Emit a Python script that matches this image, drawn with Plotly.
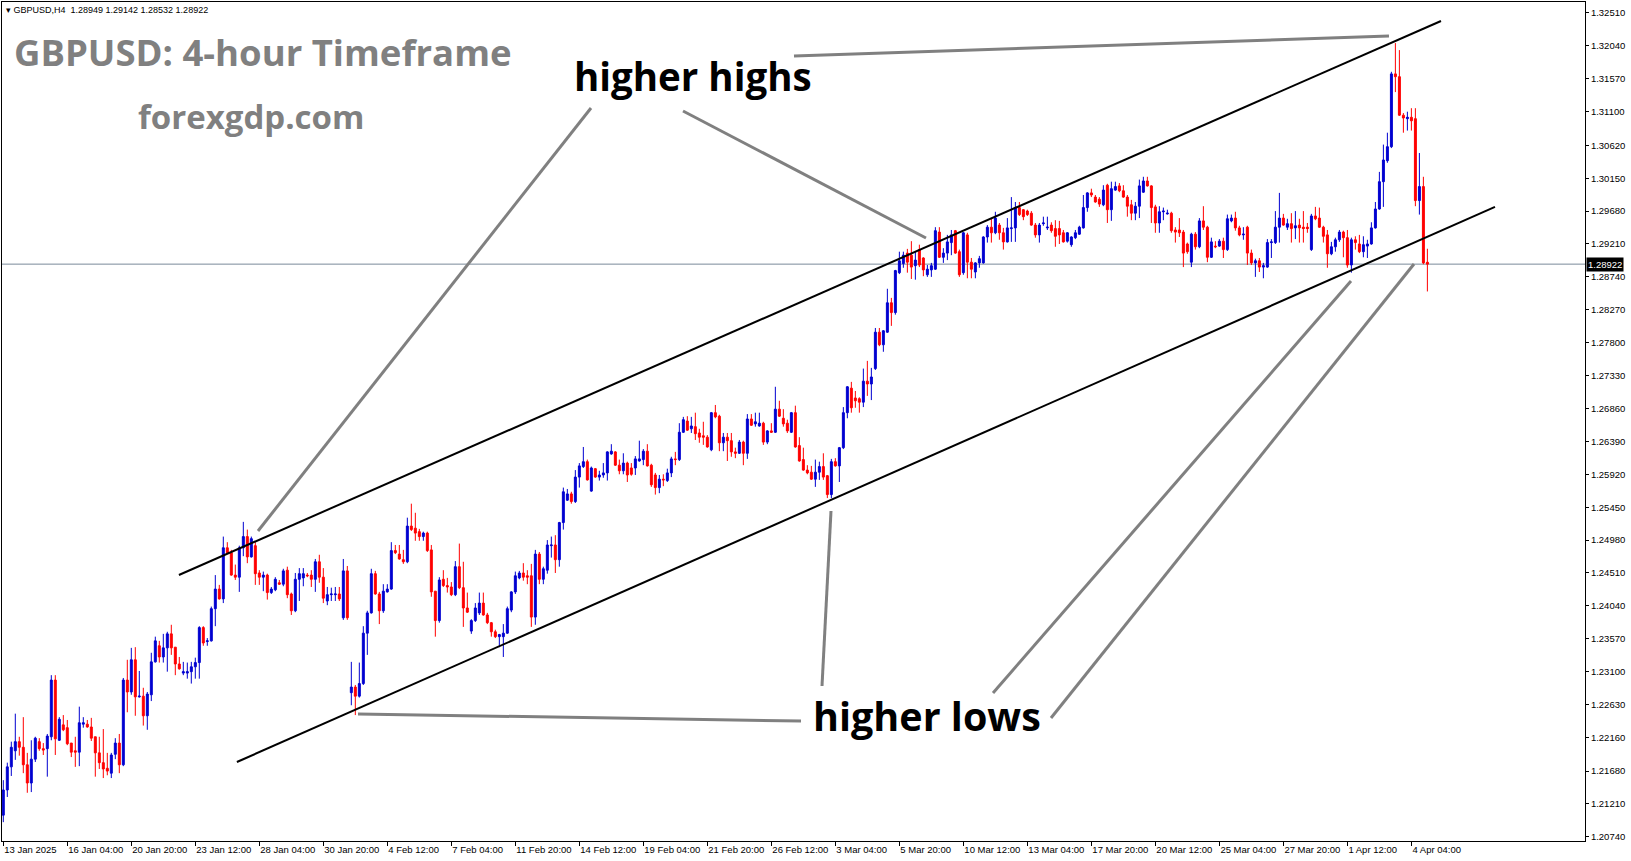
import plotly.graph_objects as go

# ---------------- data (GBPUSD H4) ----------------
open_ = [
 1.2105,1.2141,1.2174,1.2197,1.2210,1.2202,1.2177,1.2151,1.2185,1.2210,
 1.2200,1.2200,1.2217,1.2298,1.2212,1.2234,1.2230,1.2208,1.2197,1.2195,
 1.2235,1.2235,1.2231,1.2217,1.2194,1.2180,1.2172,1.2165,1.2192,1.2208,
 1.2177,1.2298,1.2281,1.2327,1.2274,1.2275,1.2247,1.2277,1.2324,1.2347,
 1.2331,1.2344,1.2364,1.2345,1.2321,1.2308,1.2308,1.2310,1.2317,1.2323,
 1.2373,1.2353,1.2354,1.2400,1.2428,1.2414,1.2487,1.2480,1.2448,1.2445,
 1.2487,1.2503,1.2474,1.2490,1.2451,1.2445,1.2448,1.2423,1.2427,1.2437,
 1.2435,1.2455,1.2421,1.2397,1.2442,1.2444,1.2448,1.2448,1.2442,1.2467,
 1.2445,1.2411,1.2420,1.2420,1.2421,1.2387,1.2454,1.2280,1.2288,1.2275,
 1.2293,1.2365,1.2394,1.2450,1.2421,1.2397,1.2424,1.2428,1.2483,1.2478,
 1.2470,1.2467,1.2518,1.2515,1.2510,1.2503,1.2508,1.2484,1.2425,1.2383,
 1.2442,1.2433,1.2431,1.2420,1.2460,1.2430,1.2401,1.2368,1.2383,1.2394,
 1.2408,1.2391,1.2380,1.2367,1.2360,1.2360,1.2365,1.2398,1.2424,1.2444,
 1.2451,1.2447,1.2447,1.2388,1.2478,1.2442,1.2455,1.2490,1.2491,1.2470,
 1.2523,1.2555,1.2564,1.2553,1.2588,1.2603,1.2610,1.2568,1.2600,1.2588,
 1.2591,1.2594,1.2621,1.2624,1.2605,1.2597,1.2608,1.2601,1.2601,1.2611,
 1.2613,1.2625,1.2605,1.2591,1.2573,1.2585,1.2583,1.2594,1.2614,1.2613,
 1.2652,1.2668,1.2657,1.2660,1.2651,1.2647,1.2645,1.2627,1.2680,1.2675,
 1.2637,1.2645,1.2640,1.2624,1.2622,1.2638,1.2622,1.2671,1.2664,1.2661,
 1.2665,1.2638,1.2654,1.2652,1.2685,1.2672,1.2665,1.2652,1.2680,1.2633,
 1.2613,1.2598,1.2595,1.2585,1.2595,1.2603,1.2590,1.2563,1.2610,1.2604,
 1.2630,1.2680,1.2715,1.2701,1.2700,1.2695,1.2725,1.2721,1.2743,1.2795,
 1.2777,1.2795,1.2837,1.2823,1.2880,1.2893,1.2908,1.2905,1.2890,1.2913,
 1.2901,1.2877,1.2884,1.2885,1.2938,1.2902,1.2908,1.2923,1.2940,1.2910,
 1.2880,1.2934,1.2895,1.2881,1.2894,1.2894,1.2931,1.2945,1.2937,1.2948,
 1.2937,1.2924,1.2943,1.2944,1.2973,1.2970,1.2968,1.2965,1.2948,1.2934,
 1.2950,1.2944,1.2948,1.2943,1.2943,1.2937,1.2925,1.2920,1.2930,1.2935,
 1.2944,1.2973,1.2994,1.2988,1.2985,1.2977,1.3005,1.2970,1.2998,1.3004,
 1.2997,1.2988,1.2977,1.2965,1.2975,1.2995,1.3011,1.3004,1.2974,1.2951,
 1.2967,1.2964,1.2965,1.2941,1.2941,1.2938,1.2921,1.2895,1.2935,1.2917,
 1.2954,1.2945,1.2902,1.2918,1.2918,1.2925,1.2913,1.2954,1.2958,1.2944,
 1.2934,1.2945,1.2908,1.2894,1.2897,1.2888,1.2888,1.2923,1.2923,1.2945,
 1.2958,1.2945,1.2950,1.2944,1.2948,1.2945,1.2945,1.2913,1.2961,1.2958,
 1.2945,1.2934,1.2907,1.2917,1.2927,1.2938,1.2930,1.2891,1.2927,1.2921,
 1.2910,1.2918,1.2921,1.2944,1.2971,1.3010,1.3040,1.3060,1.3164,1.3160,
 1.3105,1.3100,1.3102,1.3100,1.2983,1.3003,1.28949]
high_ = [
 1.2155,1.2180,1.2210,1.2250,1.2217,1.2245,1.2194,1.2212,1.2217,1.2215,
 1.2208,1.2221,1.2305,1.2305,1.2245,1.2248,1.2241,1.2208,1.2217,1.2260,
 1.2245,1.2241,1.2244,1.2217,1.2217,1.2228,1.2194,1.2194,1.2215,1.2221,
 1.2301,1.2327,1.2344,1.2345,1.2311,1.2287,1.2281,1.2337,1.2360,1.2354,
 1.2364,1.2367,1.2377,1.2345,1.2331,1.2324,1.2323,1.2324,1.2330,1.2375,
 1.2375,1.2358,1.2403,1.2448,1.2434,1.2503,1.2495,1.2484,1.2463,1.2490,
 1.2524,1.2513,1.2503,1.2495,1.2455,1.2453,1.2450,1.2431,1.2445,1.2441,
 1.2457,1.2460,1.2423,1.2451,1.2458,1.2458,1.2451,1.2455,1.2471,1.2477,
 1.2458,1.2431,1.2430,1.2431,1.2431,1.2471,1.2461,1.2324,1.2291,1.2323,
 1.2375,1.2397,1.2457,1.2454,1.2424,1.2435,1.2435,1.2495,1.2491,1.2491,
 1.2484,1.2530,1.2550,1.2537,1.2514,1.2510,1.2510,1.2491,1.2425,1.2445,
 1.2455,1.2444,1.2438,1.2468,1.2493,1.2467,1.2423,1.2385,1.2408,1.2423,
 1.2423,1.2394,1.2381,1.2370,1.2364,1.2378,1.2403,1.2425,1.2453,1.2454,
 1.2465,1.2455,1.2464,1.2484,1.2481,1.2460,1.2498,1.2503,1.2505,1.2524,
 1.2573,1.2571,1.2567,1.2598,1.2608,1.2631,1.2613,1.2603,1.2601,1.2597,
 1.2608,1.2625,1.2635,1.2625,1.2613,1.2622,1.2610,1.2608,1.2618,1.2640,
 1.2628,1.2635,1.2607,1.2594,1.2591,1.2592,1.2600,1.2617,1.2624,1.2665,
 1.2674,1.2675,1.2674,1.2680,1.2657,1.2667,1.2648,1.2681,1.2691,1.2677,
 1.2651,1.2651,1.2651,1.2630,1.2641,1.2640,1.2678,1.2678,1.2680,1.2680,
 1.2667,1.2655,1.2665,1.2717,1.2697,1.2685,1.2670,1.2681,1.2690,1.2645,
 1.2630,1.2605,1.2604,1.2613,1.2610,1.2622,1.2591,1.2614,1.2615,1.2631,
 1.2688,1.2718,1.2724,1.2711,1.2702,1.2743,1.2754,1.2744,1.2801,1.2801,
 1.2798,1.2857,1.2844,1.2884,1.2910,1.2910,1.2914,1.2925,1.2910,1.2920,
 1.2902,1.2891,1.2894,1.2945,1.2945,1.2915,1.2934,1.2941,1.2941,1.2913,
 1.2938,1.2937,1.2901,1.2895,1.2904,1.2932,1.2948,1.2958,1.2967,1.2951,
 1.2944,1.2958,1.2988,1.2981,1.2981,1.2971,1.2970,1.2968,1.2951,1.2951,
 1.2960,1.2960,1.2952,1.2955,1.2954,1.2941,1.2938,1.2932,1.2941,1.2947,
 1.2991,1.2995,1.3000,1.2991,1.2988,1.3005,1.3007,1.3010,1.3010,1.3008,
 1.3005,1.2991,1.2984,1.2981,1.3013,1.3017,1.3017,1.3005,1.2977,1.2975,
 1.2973,1.2970,1.2967,1.2945,1.2958,1.2941,1.2923,1.2937,1.2938,1.2958,
 1.2975,1.2947,1.2930,1.2925,1.2928,1.2930,1.2963,1.2963,1.2967,1.2947,
 1.2945,1.2947,1.2913,1.2900,1.2901,1.2894,1.2928,1.2928,1.2968,1.2994,
 1.2964,1.2957,1.2965,1.2968,1.2957,1.2968,1.2951,1.2964,1.2974,1.2973,
 1.2947,1.2941,1.2924,1.2930,1.2941,1.2940,1.2941,1.2930,1.2932,1.2934,
 1.2932,1.2927,1.2952,1.2981,1.3024,1.3063,1.3080,1.3167,1.3208,1.3198,
 1.3108,1.3110,1.3115,1.3115,1.3051,1.3017,1.29142]
low_ = [
 1.2095,1.2131,1.2161,1.2184,1.2190,1.2165,1.2137,1.2138,1.2181,1.2197,
 1.2191,1.2160,1.2212,1.2191,1.2211,1.2225,1.2205,1.2188,1.2174,1.2175,
 1.2230,1.2230,1.2211,1.2160,1.2171,1.2158,1.2162,1.2158,1.2185,1.2165,
 1.2175,1.2252,1.2277,1.2247,1.2273,1.2233,1.2227,1.2268,1.2323,1.2323,
 1.2323,1.2310,1.2334,1.2305,1.2313,1.2305,1.2300,1.2293,1.2300,1.2300,
 1.2347,1.2347,1.2353,1.2375,1.2413,1.2408,1.2478,1.2447,1.2441,1.2424,
 1.2475,1.2465,1.2473,1.2434,1.2434,1.2425,1.2413,1.2421,1.2425,1.2434,
 1.2432,1.2415,1.2391,1.2395,1.2411,1.2432,1.2445,1.2431,1.2424,1.2437,
 1.2408,1.2405,1.2411,1.2411,1.2411,1.2384,1.2384,1.2262,1.2248,1.2273,
 1.2291,1.2334,1.2393,1.2420,1.2378,1.2394,1.2423,1.2427,1.2478,1.2470,
 1.2464,1.2465,1.2511,1.2497,1.2497,1.2497,1.2481,1.2417,1.2360,1.2380,
 1.2431,1.2423,1.2418,1.2418,1.2428,1.2374,1.2394,1.2364,1.2381,1.2391,
 1.2390,1.2378,1.2360,1.2358,1.2345,1.2331,1.2364,1.2395,1.2421,1.2442,
 1.2440,1.2435,1.2374,1.2377,1.2435,1.2435,1.2450,1.2473,1.2451,1.2460,
 1.2513,1.2554,1.2550,1.2551,1.2573,1.2601,1.2583,1.2567,1.2587,1.2583,
 1.2587,1.2583,1.2620,1.2604,1.2592,1.2592,1.2581,1.2590,1.2591,1.2610,
 1.2605,1.2603,1.2574,1.2563,1.2565,1.2575,1.2581,1.2588,1.2605,1.2611,
 1.2651,1.2654,1.2651,1.2641,1.2637,1.2634,1.2630,1.2625,1.2672,1.2625,
 1.2625,1.2611,1.2617,1.2615,1.2621,1.2605,1.2614,1.2661,1.2660,1.2660,
 1.2634,1.2635,1.2651,1.2651,1.2674,1.2660,1.2651,1.2651,1.2630,1.2610,
 1.2597,1.2592,1.2584,1.2574,1.2584,1.2584,1.2558,1.2558,1.2603,1.2581,
 1.2628,1.2672,1.2680,1.2687,1.2680,1.2688,1.2704,1.2698,1.2741,1.2775,
 1.2767,1.2794,1.2804,1.2820,1.2878,1.2887,1.2880,1.2871,1.2870,1.2888,
 1.2875,1.2874,1.2874,1.2884,1.2901,1.2894,1.2898,1.2905,1.2907,1.2874,
 1.2877,1.2872,1.2872,1.2872,1.2887,1.2893,1.2923,1.2923,1.2935,1.2927,
 1.2913,1.2923,1.2924,1.2924,1.2961,1.2955,1.2961,1.2947,1.2930,1.2923,
 1.2947,1.2941,1.2937,1.2917,1.2921,1.2923,1.2923,1.2917,1.2928,1.2934,
 1.2943,1.2967,1.2988,1.2980,1.2974,1.2975,1.2951,1.2954,1.2997,1.2995,
 1.2987,1.2960,1.2955,1.2955,1.2958,1.2994,1.3003,1.2951,1.2937,1.2937,
 1.2955,1.2963,1.2937,1.2923,1.2931,1.2888,1.2907,1.2888,1.2913,1.2915,
 1.2941,1.2895,1.2901,1.2915,1.2917,1.2901,1.2911,1.2952,1.2940,1.2932,
 1.2927,1.2891,1.2891,1.2874,1.2881,1.2872,1.2887,1.2901,1.2921,1.2923,
 1.2947,1.2941,1.2923,1.2928,1.2923,1.2923,1.2937,1.2911,1.2955,1.2944,
 1.2923,1.2887,1.2905,1.2910,1.2924,1.2902,1.2887,1.2880,1.2913,1.2908,
 1.2902,1.2901,1.2920,1.2943,1.2970,1.2974,1.3037,1.3058,1.3138,1.3104,
 1.3080,1.3083,1.3083,1.2975,1.2963,1.2892,1.28532]
close_ = [
 1.2141,1.2174,1.2202,1.2210,1.2202,1.2177,1.2151,1.2185,1.2215,1.2200,
 1.2198,1.2218,1.2298,1.2214,1.2242,1.2227,1.2207,1.2195,1.2195,1.2237,
 1.2237,1.2231,1.2215,1.2194,1.2180,1.2171,1.2168,1.2191,1.2208,1.2177,
 1.2298,1.2281,1.2327,1.2274,1.2275,1.2247,1.2278,1.2324,1.2354,1.2331,
 1.2344,1.2364,1.2344,1.2321,1.2314,1.2310,1.2310,1.2317,1.2323,1.2373,
 1.2351,1.2354,1.2400,1.2428,1.2414,1.2487,1.2480,1.2448,1.2445,1.2487,
 1.2503,1.2474,1.2500,1.2450,1.2445,1.2448,1.2423,1.2428,1.2442,1.2435,
 1.2454,1.2420,1.2397,1.2442,1.2450,1.2450,1.2447,1.2442,1.2467,1.2445,
 1.2415,1.2420,1.2421,1.2421,1.2414,1.2454,1.2387,1.2288,1.2275,1.2293,
 1.2365,1.2394,1.2450,1.2421,1.2397,1.2425,1.2428,1.2483,1.2480,1.2471,
 1.2467,1.2518,1.2513,1.2508,1.2503,1.2508,1.2483,1.2424,1.2383,1.2441,
 1.2433,1.2431,1.2420,1.2460,1.2430,1.2401,1.2395,1.2383,1.2401,1.2408,
 1.2391,1.2380,1.2367,1.2360,1.2363,1.2365,1.2400,1.2424,1.2447,1.2451,
 1.2445,1.2445,1.2388,1.2478,1.2442,1.2457,1.2491,1.2491,1.2470,1.2523,
 1.2567,1.2564,1.2553,1.2588,1.2604,1.2610,1.2584,1.2601,1.2588,1.2591,
 1.2594,1.2624,1.2625,1.2605,1.2597,1.2608,1.2591,1.2592,1.2614,1.2614,
 1.2625,1.2604,1.2577,1.2573,1.2585,1.2584,1.2594,1.2614,1.2613,1.2652,
 1.2670,1.2655,1.2661,1.2650,1.2645,1.2645,1.2631,1.2680,1.2674,1.2637,
 1.2645,1.2640,1.2624,1.2622,1.2638,1.2622,1.2671,1.2662,1.2667,1.2665,
 1.2638,1.2654,1.2652,1.2685,1.2675,1.2664,1.2654,1.2680,1.2631,1.2611,
 1.2598,1.2594,1.2585,1.2595,1.2603,1.2588,1.2563,1.2610,1.2604,1.2630,
 1.2680,1.2717,1.2687,1.2697,1.2695,1.2725,1.2721,1.2731,1.2795,1.2777,
 1.2797,1.2837,1.2823,1.2883,1.2897,1.2905,1.2895,1.2888,1.2898,1.2891,
 1.2884,1.2885,1.2890,1.2940,1.2902,1.2908,1.2924,1.2934,1.2908,1.2877,
 1.2937,1.2895,1.2885,1.2894,1.2900,1.2931,1.2945,1.2937,1.2958,1.2937,
 1.2924,1.2944,1.2944,1.2973,1.2963,1.2960,1.2963,1.2948,1.2934,1.2948,
 1.2951,1.2945,1.2940,1.2932,1.2934,1.2924,1.2937,1.2931,1.2937,1.2945,
 1.2973,1.2994,1.2991,1.2981,1.2978,1.2998,1.2970,1.3000,1.3003,1.2997,
 1.2988,1.2975,1.2965,1.2975,1.3004,1.3011,1.3004,1.2973,1.2951,1.2967,
 1.2968,1.2965,1.2940,1.2938,1.2937,1.2908,1.2910,1.2935,1.2917,1.2954,
 1.2945,1.2902,1.2924,1.2917,1.2925,1.2913,1.2957,1.2958,1.2944,1.2934,
 1.2935,1.2908,1.2894,1.2897,1.2888,1.2890,1.2923,1.2924,1.2945,1.2958,
 1.2948,1.2950,1.2943,1.2947,1.2944,1.2943,1.2943,1.2961,1.2957,1.2945,
 1.2932,1.2907,1.2917,1.2927,1.2938,1.2930,1.2891,1.2927,1.2923,1.2910,
 1.2920,1.2921,1.2944,1.2971,1.3010,1.3041,1.3060,1.3164,1.3160,1.3105,
 1.3101,1.3102,1.3097,1.2983,1.3003,1.2894,1.28922]

# x-axis labels (every 16th 4-hour bar)
tick_bars = [0, 16, 32, 48, 64, 80, 96, 112, 128, 144, 160, 176, 192, 208,
             224, 240, 256, 272, 288, 304, 320, 336, 352]
tick_dates = ["13 Jan 2025", "16 Jan 04:00", "20 Jan 20:00", "23 Jan 12:00",
              "28 Jan 04:00", "30 Jan 20:00", "4 Feb 12:00", "7 Feb 04:00",
              "11 Feb 20:00", "14 Feb 12:00", "19 Feb 04:00", "21 Feb 20:00",
              "26 Feb 12:00", "3 Mar 04:00", "5 Mar 20:00", "10 Mar 12:00",
              "13 Mar 04:00", "17 Mar 20:00", "20 Mar 12:00", "25 Mar 04:00",
              "27 Mar 20:00", "1 Apr 12:00", "4 Apr 04:00"]
price_ticks = [1.20740, 1.21210, 1.21680, 1.22160, 1.22630, 1.23100, 1.23570,
               1.24040, 1.24510, 1.24980, 1.25450, 1.25920, 1.26390, 1.26860,
               1.27330, 1.27800, 1.28270, 1.28740, 1.29210, 1.29680, 1.30150,
               1.30620, 1.31100, 1.31570, 1.32040, 1.32510]
last_price = 1.28922

# channel trendlines (bar index, price)
upper_x = [43.9, 359.4]
upper_y = [1.24481, 1.32396]
lower_x = [58.4, 372.9]
lower_y = [1.21810, 1.29739]

bars = list(range(len(open_)))

W, H = 1631, 861
ML, MR, MT, MB = 2, 46, 2, 20
PW, PH = W - ML - MR, H - MT - MB


def px(x):
    return (x - ML) / PW


def py(y):
    return (H - MB - y) / PH


fig = go.Figure()
fig.add_trace(go.Candlestick(
    x=bars, open=open_, high=high_, low=low_, close=close_,
    increasing=dict(line=dict(color="#0000D0", width=1), fillcolor="#0000D0"),
    decreasing=dict(line=dict(color="#FF0000", width=1), fillcolor="#FF0000"),
    whiskerwidth=0, showlegend=False, hoverinfo="skip"))

for xs, ys in ((upper_x, upper_y), (lower_x, lower_y)):
    fig.add_trace(go.Scatter(x=xs, y=ys, mode="lines",
                             line=dict(color="black", width=2),
                             showlegend=False, hoverinfo="skip"))

shapes = [dict(type="line", xref="paper", x0=0, x1=1, yref="y",
               y0=last_price, y1=last_price,
               line=dict(color="#7a8a9a", width=1), layer="below")]
gray_lines = [((591, 108), (258, 531)), ((683, 111), (926, 238)),
              ((794, 56), (1389, 36)), ((358, 714), (801, 721)),
              ((822, 686), (831, 511)), ((993, 693), (1351, 281)),
              ((1051, 718), (1414, 264))]
for (a, b) in gray_lines:
    shapes.append(dict(type="line", xref="paper", yref="paper",
                       x0=px(a[0]), y0=py(a[1]), x1=px(b[0]), y1=py(b[1]),
                       line=dict(color="#808080", width=3)))

ann = []
ann.append(dict(xref="paper", yref="paper", x=px(4), y=py(10),
                xanchor="left", yanchor="middle", showarrow=False,
                text="\u25BE GBPUSD,H4\u00a0\u00a01.28949 1.29142 1.28532 1.28922",
                font=dict(family="Liberation Sans", size=9, color="black")))
ann.append(dict(xref="paper", yref="paper", x=px(12), y=py(52),
                xanchor="left", yanchor="middle", showarrow=False,
                text="<b>GBPUSD: 4-hour Timeframe</b>",
                font=dict(family="Open Sans", size=36.5, color="#808080")))
ann.append(dict(xref="paper", yref="paper", x=px(251), y=py(116),
                xanchor="center", yanchor="middle", showarrow=False,
                text="<b>forexgdp.com</b>",
                font=dict(family="Open Sans", size=33, color="#808080")))
ann.append(dict(xref="paper", yref="paper", x=px(693), y=py(76),
                xanchor="center", yanchor="middle", showarrow=False,
                text="<b>higher highs</b>",
                font=dict(family="Open Sans", size=38.5, color="black")))
ann.append(dict(xref="paper", yref="paper", x=px(927), y=py(716),
                xanchor="center", yanchor="middle", showarrow=False,
                text="<b>higher lows</b>",
                font=dict(family="Open Sans", size=39.5, color="black")))
ann.append(dict(xref="paper", yref="y", x=1, y=last_price,
                xanchor="left", yanchor="middle", showarrow=False,
                xshift=1, text="1.28922", bgcolor="black", borderpad=1,
                font=dict(family="Liberation Sans", size=9.5, color="white")))

fig.update_layout(
    width=W, height=H, margin=dict(l=ML, r=MR, t=MT, b=MB, autoexpand=False),
    paper_bgcolor="white", plot_bgcolor="white",
    shapes=shapes, annotations=ann, showlegend=False,
    xaxis=dict(range=[-0.325, 395.4], showgrid=False, zeroline=False,
               rangeslider=dict(visible=False),
               tickmode="array", tickvals=tick_bars, ticktext=tick_dates,
               ticks="outside", ticklen=4, tickcolor="black", tickangle=0,
               ticklabelposition="outside right", ticklabelstandoff=0,
               tickfont=dict(family="Liberation Sans", size=9.5, color="black"),
               showline=True, linecolor="black", linewidth=1, mirror=True,
               automargin=False, fixedrange=True),
    yaxis=dict(range=[1.20681, 1.32667], side="right", showgrid=False,
               zeroline=False, tickmode="array", tickvals=price_ticks,
               ticktext=["%.5f" % v for v in price_ticks],
               ticks="outside", ticklen=3, tickcolor="black",
               ticklabelstandoff=0,
               tickfont=dict(family="Liberation Sans", size=9.5, color="black"),
               showline=True, linecolor="black", linewidth=1, mirror=True,
               automargin=False, fixedrange=True),
)

fig.write_html(
    "out.html",
    config={"displayModeBar": False},
    post_script="document.body.style.margin='0';"
                "document.body.style.overflow='hidden';")
